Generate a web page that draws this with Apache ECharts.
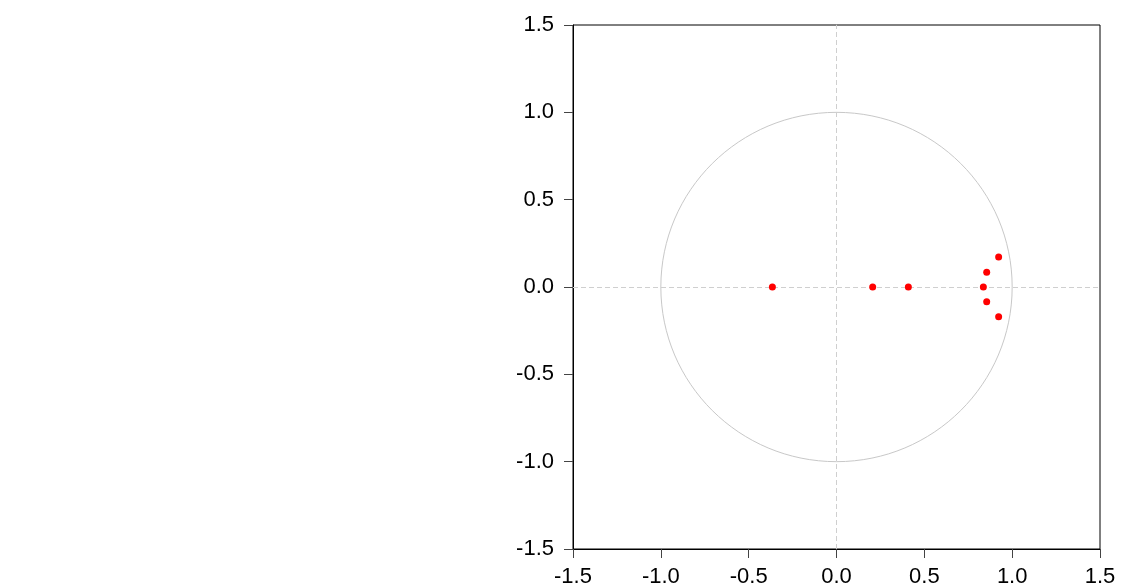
<!DOCTYPE html>
<html>
<head>
<meta charset="utf-8">
<script src="https://cdn.jsdelivr.net/npm/echarts@6/dist/echarts.min.js"></script>
<style>
  html, body { margin: 0; padding: 0; background: #fff; }
  #chart { width: 1122px; height: 588px; }
</style>
</head>
<body>
<div id="chart"></div>
<script>
// inverse roots of the AR characteristic polynomial
const rootsRe = [-0.365, 0.206, 0.409, 0.836, 0.855, 0.855, 0.923, 0.923]
const rootsIm = [0, 0, 0, 0, 0.085, -0.084, 0.172, -0.171]
const axisTicks = [-1.5, -1.0, -0.5, 0.0, 0.5, 1.0, 1.5]
const unitRadius = 1

const chart = echarts.init(document.getElementById('chart'), null, { renderer: 'canvas' })

const axisCommon = {
  type: 'value',
  min: axisTicks[0],
  max: axisTicks[axisTicks.length - 1],
  interval: 0.5,
  splitLine: { show: false },
  axisLine: { show: true, onZero: false, lineStyle: { color: '#000', width: 1 } },
  axisTick: { show: true, inside: false, length: 9, lineStyle: { color: '#444' } },
  axisLabel: {
    color: '#000',
    fontFamily: 'Liberation Sans, Arial, sans-serif',
    fontSize: 22,
    formatter: v => v.toFixed(1)
  }
}

chart.setOption({
  animation: false,
  backgroundColor: '#fff',
  grid: {
    left: 573, top: 25, right: 22, bottom: 39,
    show: true, borderColor: '#000', borderWidth: 1, backgroundColor: 'transparent'
  },
  xAxis: { ...axisCommon, axisLabel: { ...axisCommon.axisLabel, margin: 17 } },
  yAxis: { ...axisCommon, axisLabel: { ...axisCommon.axisLabel, margin: 19 } },
  series: [
    {
      type: 'custom',
      silent: true,
      data: [[0, 0, unitRadius]],
      renderItem: (params, api) => {
        const c = api.coord([api.value(0), api.value(1)])
        const r = api.size([api.value(2), api.value(2)])
        return {
          type: 'ellipse',
          shape: { cx: c[0], cy: c[1], rx: r[0], ry: r[1] },
          style: { fill: null, stroke: '#c8c8c8', lineWidth: 1 }
        }
      },
      z: 1
    },
    {
      type: 'scatter',
      symbol: 'circle',
      symbolSize: 7,
      itemStyle: { color: '#ff0000', opacity: 1 },
      data: rootsRe.map((re, i) => [re, rootsIm[i]]),
      markLine: {
        silent: true,
        symbol: 'none',
        label: { show: false },
        lineStyle: { color: '#cfcfcf', type: [5, 3], width: 1 },
        data: [{ xAxis: 0 }, { yAxis: 0 }],
        z: 2
      },
      z: 3
    }
  ]
})
</script>
</body>
</html>
